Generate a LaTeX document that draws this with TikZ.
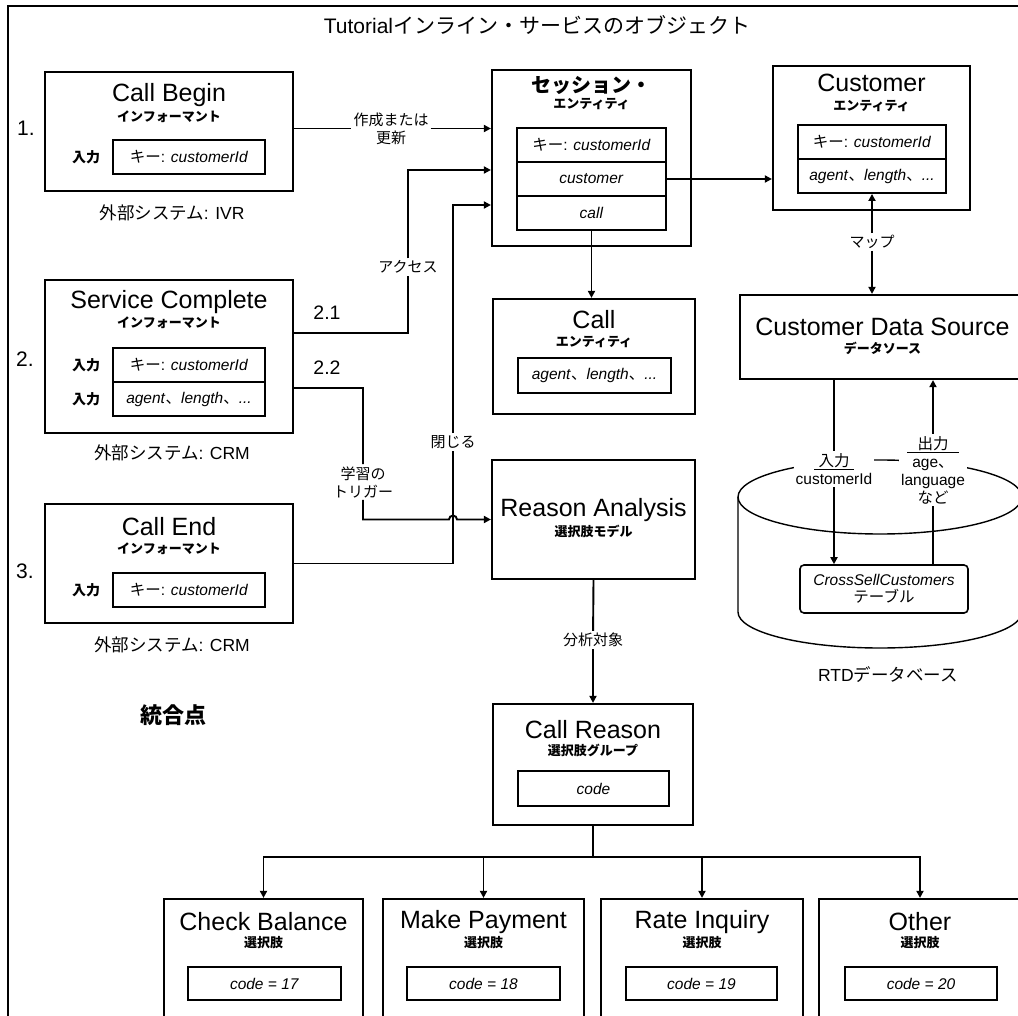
\documentclass[tikz,border=0pt]{standalone}
\usepackage{fontspec}
\setmainfont{Liberation Sans}
\newfontfamily\jp{Noto Sans CJK JP}
\usetikzlibrary{arrows.meta}

\begin{document}
\begin{tikzpicture}[
  x=1pt, y=-1pt,
  frame/.style={line width=2.6pt},
  objbox/.style={rectangle, draw, line width=2.2pt, fill=white, inner sep=0pt},
  fieldbox/.style={rectangle, draw, line width=1.9pt, inner sep=0pt, font=\fontsize{15.5}{17}\selectfont},
  objname/.style={inner sep=0pt, font=\fontsize{25}{27}\selectfont},
  objkind/.style={inner sep=0pt, font=\jp\bfseries\fontsize{13}{15}\selectfont},
  inlabel/.style={inner sep=0pt, font=\jp\bfseries\fontsize{14}{16}\selectfont},
  syslabel/.style={inner sep=0pt, font=\fontsize{17.5}{19}\selectfont},
  steplabel/.style={inner sep=0pt, font=\fontsize{21}{23}\selectfont},
  linklabel/.style={fill=white, align=center, inner sep=2pt, font=\jp\fontsize{15}{18}\selectfont},
  dbline/.style={line width=1.4pt},
  link/.style={line width=1.9pt},
  linkarrow/.style={link, -{Triangle[length=7pt,width=7pt]}}
]

\clip (0,0) rectangle (1018,1016);
\draw[frame] (8,6) rectangle (1040,1040);

% Title
\node[inner sep=0pt, font=\fontsize{21}{23}\selectfont] (title) at (537,25) {Tutorial{\jp インライン・サービスのオブジェクト}};

% Informant: Call Begin
\node[objbox, minimum width=248pt, minimum height=119pt] (cb) at (169,131.5) {};
\node[objname] (cb-name) at (169,95) {Call Begin};
\node[objkind] (cb-kind) at (169,117) {インフォーマント};
\node[fieldbox, minimum width=152pt, minimum height=34pt] (cb-key) at (189,157) {{\jp キー}: \textit{customerId}};
\node[inlabel] (cb-in) at (86,157) {入力};
\node[steplabel] (cb-step) at (26,128) {1.};
\node[syslabel] (cb-sys) at (172,213) {{\jp 外部システム}: IVR};

% Informant: Service Complete
\node[objbox, minimum width=248pt, minimum height=153pt] (sc) at (169,356.5) {};
\node[objname] (sc-name) at (169,302) {Service Complete};
\node[objkind] (sc-kind) at (169,323) {インフォーマント};
\node[fieldbox, minimum width=152pt, minimum height=34pt] (sc-key) at (189,365) {{\jp キー}: \textit{customerId}};
\node[fieldbox, minimum width=152pt, minimum height=34pt] (sc-attr) at (189,399) {\textit{agent}{\jp 、}\textit{length}{\jp 、}\textit{...}};
\node[inlabel] (sc-in1) at (86,365) {入力};
\node[inlabel] (sc-in2) at (86,399) {入力};
\node[steplabel] (sc-step) at (25,359) {2.};
\node[syslabel] (sc-sys) at (172,453) {{\jp 外部システム}: CRM};
\node[steplabel, font=\fontsize{19.5}{21}\selectfont] (sc-out1) at (327,313) {2.1};
\node[steplabel, font=\fontsize{19.5}{21}\selectfont] (sc-out2) at (327,368) {2.2};

% Informant: Call End
\node[objbox, minimum width=248pt, minimum height=119pt] (ce) at (169,563.5) {};
\node[objname] (ce-name) at (169,527) {Call End};
\node[objkind] (ce-kind) at (169,549) {インフォーマント};
\node[fieldbox, minimum width=152pt, minimum height=34pt] (ce-key) at (189,590) {{\jp キー}: \textit{customerId}};
\node[inlabel] (ce-in) at (86,590) {入力};
\node[steplabel] (ce-step) at (25,571) {3.};
\node[syslabel] (ce-sys) at (172,645) {{\jp 外部システム}: CRM};

\node[inner sep=0pt, font=\jp\bfseries\fontsize{22}{24}\selectfont] (ipoints) at (173,715) {統合点};

% Session entity
\node[objbox, minimum width=199pt, minimum height=176pt] (sess) at (591.5,158) {};
\node[inner sep=0pt, font=\jp\bfseries\fontsize{20}{22}\selectfont] (sess-name) at (591.5,85) {セッション・};
\node[objkind] (sess-kind) at (591.5,104) {エンティティ};
\node[fieldbox, minimum width=149pt, minimum height=34pt] (sess-key) at (591.5,145) {{\jp キー}: \textit{customerId}};
\node[fieldbox, minimum width=149pt, minimum height=34pt] (sess-cust) at (591.5,179) {\textit{customer}};
\node[fieldbox, minimum width=149pt, minimum height=34pt] (sess-call) at (591.5,213) {\textit{call}};

% Customer entity
\node[objbox, minimum width=197pt, minimum height=144pt] (cust) at (871.5,138) {};
\node[objname] (cust-name) at (871.5,83) {Customer};
\node[objkind] (cust-kind) at (871.5,106) {エンティティ};
\node[fieldbox, minimum width=148pt, minimum height=34pt] (cust-key) at (872,142) {{\jp キー}: \textit{customerId}};
\node[fieldbox, minimum width=148pt, minimum height=34pt] (cust-attr) at (872,176) {\textit{agent}{\jp 、}\textit{length}{\jp 、}\textit{...}};

% Call entity
\node[objbox, minimum width=202pt, minimum height=115pt] (call) at (594,356.5) {};
\node[objname] (call-name) at (594,320) {Call};
\node[objkind] (call-kind) at (594,342) {エンティティ};
\node[fieldbox, minimum width=153pt, minimum height=35pt] (call-attr) at (594.5,375.5) {\textit{agent}{\jp 、}\textit{length}{\jp 、}\textit{...}};

% Choice model and choice group
\node[objbox, minimum width=203pt, minimum height=119pt] (ra) at (593.5,519.5) {};
\node[objname] (ra-name) at (593.5,510) {Reason Analysis};
\node[objkind] (ra-kind) at (593.5,531) {選択肢モデル};

\node[objbox, minimum width=200pt, minimum height=121pt] (cr) at (593,764.5) {};
\node[objname] (cr-name) at (593,730) {Call Reason};
\node[objkind] (cr-kind) at (593,750) {選択肢グループ};
\node[fieldbox, minimum width=151pt, minimum height=35pt] (cr-code) at (593.5,788.5) {\textit{code}};

% Choices
\node[objbox, minimum width=199pt, minimum height=141pt] (ch1) at (263.5,969.5) {};
\node[objname] (ch1-name) at (263.5,922) {Check Balance};
\node[objkind] (ch1-kind) at (263.5,943) {選択肢};
\node[fieldbox, minimum width=153pt, minimum height=33pt] (ch1-code) at (264.5,983.5) {\textit{code = 17}};

\node[objbox, minimum width=201pt, minimum height=141pt] (ch2) at (483.5,969.5) {};
\node[objname] (ch2-name) at (483.5,922) {Make Payment};
\node[objkind] (ch2-kind) at (483.5,943) {選択肢};
\node[fieldbox, minimum width=153pt, minimum height=33pt] (ch2-code) at (483.5,983.5) {\textit{code = 18}};

\node[objbox, minimum width=202pt, minimum height=141pt] (ch3) at (702,969.5) {};
\node[objname] (ch3-name) at (702,922) {Rate Inquiry};
\node[objkind] (ch3-kind) at (702,943) {選択肢};
\node[fieldbox, minimum width=151pt, minimum height=33pt] (ch3-code) at (701.5,983.5) {\textit{code = 19}};

\node[objbox, minimum width=202pt, minimum height=141pt] (ch4) at (920,969.5) {};
\node[objname] (ch4-name) at (920,922) {Other};
\node[objkind] (ch4-kind) at (920,943) {選択肢};
\node[fieldbox, minimum width=152pt, minimum height=33pt] (ch4-code) at (921,983.5) {\textit{code = 20}};

% Data source
\node[objbox, minimum width=284pt, minimum height=84pt] (cds) at (882,337) {};
\node[objname] (cds-name) at (882.5,327) {Customer Data Source};
\node[objkind] (cds-kind) at (882.5,348) {データソース};

% RTD database
\draw[dbline] (880,497) ellipse [x radius=142pt, y radius=37pt];
\draw[dbline] (738,497) -- (738,612) arc[start angle=180, end angle=360, x radius=142pt, y radius=36pt] -- (1022,497);
\node[rectangle, rounded corners=4pt, draw, line width=1.6pt, fill=white, minimum width=168pt, minimum height=48pt, align=center, inner sep=0pt, font=\fontsize{15.5}{17}\selectfont] (tbl) at (884,589) {\textit{CrossSellCustomers}\\{\jp テーブル}};
\node[syslabel] (db-name) at (888,675) {RTD{\jp データベース}};

% Link labels
\node[linklabel] (crt-lbl) at (391,128.5) {作成または\\更新};
\node[linklabel] (acc-lbl) at (408,267) {アクセス};
\node[linklabel] (cls-lbl) at (453,442) {閉じる};
\node[linklabel] (trg-lbl) at (363,482) {学習の\\トリガー};
\node[linklabel] (anl-lbl) at (593,640) {分析対象};
\node[linklabel] (map-lbl) at (872,242) {マップ};
\node[linklabel, font=\fontsize{15.5}{18}\selectfont] (in-lbl) at (834,469) {\underline{\makebox[40pt]{\jp 入力}}\\customerId};
\node[linklabel, font=\fontsize{15.5}{18}\selectfont] (out-lbl) at (933,470) {\underline{\makebox[52pt]{\jp 出力}}\\age{\jp 、}\\language\\{\jp など}};
\coordinate (hop) at (cls-lbl |- ra.west);
\coordinate (fork) at (593,857);

% Informants to session and model
\draw[linkarrow] ([yshift=3pt]cb.east) -- (crt-lbl) -- (crt-lbl -| sess.west);
\draw[linkarrow] ([yshift=23.5pt]sc.east) -| (acc-lbl) |- ([yshift=-12pt]sess.west);
\draw[linkarrow] (ce.east) -| (cls-lbl) |- ([yshift=-47pt]sess.west);
\draw[linkarrow] ([yshift=-31.5pt]sc.east) -| (trg-lbl) |- ([xshift=-4pt]hop) arc[start angle=180, end angle=0, radius=4pt] -- (ra.west);

% Entities
\draw[linkarrow] (sess-call.south) -- (sess-call.south |- call.north);
\draw[linkarrow] (sess-cust.east) -- (sess-cust.east -| cust.west);
\draw[linkarrow] (map-lbl) -- (cust-attr.south);
\draw[linkarrow] (map-lbl) -- (map-lbl |- cds.north);

% Data source and table
\draw[linkarrow] (in-lbl |- cds.south) -- (in-lbl) -- (in-lbl |- tbl.north);
\draw[linkarrow] (out-lbl |- tbl.north) -- (out-lbl) -- (out-lbl |- cds.south);

% Model to choices
\draw[linkarrow] (ra.south) -- (anl-lbl) -- (cr.north);
\draw[link] (cr.south) -- (fork);
\draw[linkarrow] (fork) -| (ch1.north);
\draw[linkarrow] (fork) -| (ch2.north);
\draw[linkarrow] (fork) -| (ch3.north);
\draw[linkarrow] (fork) -| (ch4.north);

\end{tikzpicture}
\end{document}
